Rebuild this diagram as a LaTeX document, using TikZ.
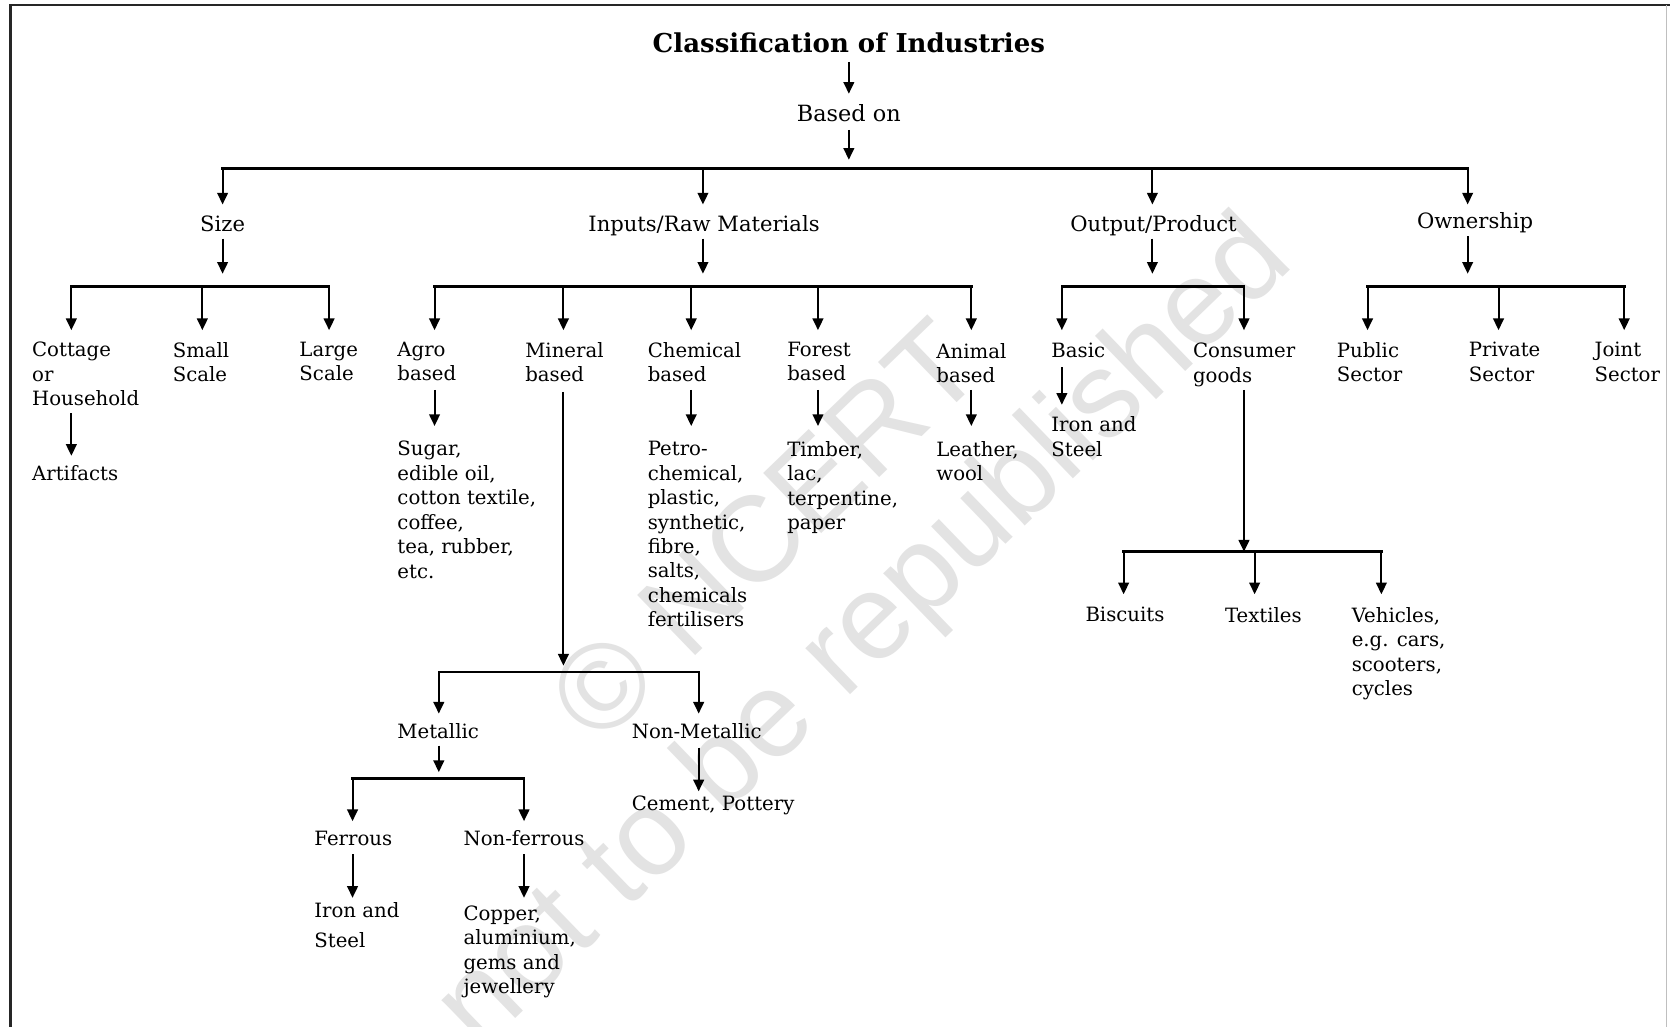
\documentclass[tikz,border=0pt]{standalone}
\usepackage{fontspec}
\setmainfont{DejaVu Serif}
\newfontfamily\wmfont{Liberation Sans}
\usetikzlibrary{arrows.meta}
\begin{document}
\begin{tikzpicture}[x=1pt,y=-1pt,
  lbl/.style={anchor=north west, inner sep=0pt, align=left, font=\fontsize{18.5}{23}\selectfont},
  lblc/.style={anchor=north, inner sep=0pt, align=center, font=\fontsize{19.8}{24}\selectfont},
  arr/.style={line width=1.9pt, -{Triangle[length=11pt,width=10pt]}},
  bar/.style={line width=2.4pt, line cap=rect},
  frame/.style={line width=2.2pt, draw=black!85}]
\useasboundingbox (0,0) rectangle (1568,964);
\fill[white] (0,0) rectangle (1568,964);
% watermark
\node[rotate=44, text=black!11, inner sep=0pt, align=center,
      font=\wmfont\fontsize{114}{128}\selectfont] (wm) at (770,552) {© NCERT\\not to be republished};
% frame
\coordinate (fTL) at (10,5);
\coordinate (fTR) at (1568,5);
\coordinate (fBL) at (10,964);
\coordinate (fRT) at (1565,5);
\coordinate (fRB) at (1565,964);
\draw[frame] (fBL) -- (fTL) -- (fTR);
\draw[line width=1pt, draw=black!25] (fRT) -- (fRB);

% title
\node[inner sep=0pt, font=\fontsize{24.4}{29}\selectfont\bfseries] (title) at (797,40) {Classification of Industries};
\node[lblc, font=\fontsize{21}{25}\selectfont] (based) at (797,98) {Based on};
\coordinate (based-in) at (797,88);
\coordinate (bar0) at (797,150);
\draw[arr] (title.south |- 0,58) -- (based-in);
\draw[arr] (based.south |- 0,122) -- (bar0);

% level 1
\coordinate (b0L) at (209,158);
\coordinate (b0R) at (1378,158);
\draw[bar] (b0L) -- (b0R);
\node[lblc] (size) at (209,202) {Size};
\node[lblc] (inputs) at (661,202) {Inputs/Raw Materials};
\node[lblc] (output) at (1083,202) {Output/Product};
\node[lblc] (owner) at (1385,199) {Ownership};
\coordinate (tSize) at (209,192);
\coordinate (tInputs) at (660,192);
\coordinate (tOutput) at (1082,192);
\coordinate (tOwner) at (1378,192);
\foreach \t in {tSize,tInputs,tOutput,tOwner}{\draw[arr] (\t |- b0L) -- (\t);}

% level-2 bars
\coordinate (bSL) at (67,269);  \coordinate (bSR) at (309,269);
\coordinate (bIL) at (408,269); \coordinate (bIR) at (912,269);
\coordinate (bOL) at (997,269); \coordinate (bOR) at (1168,269);
\coordinate (bWL) at (1284,269);\coordinate (bWR) at (1525,269);
\draw[arr] (tSize |- 0,224) -- (tSize |- 0,257);
\draw[arr] (tInputs |- 0,224) -- (tInputs |- 0,257);
\draw[arr] (tOutput |- 0,224) -- (tOutput |- 0,257);
\draw[arr] (tOwner |- 0,222) -- (tOwner |- 0,257);
\draw[bar] (bSL) -- (bSR);
\draw[bar] (bIL) -- (bIR);
\draw[bar] (bOL) -- (bOR);
\draw[bar] (bWL) -- (bWR);

% level-2 labels
\node[lbl] (cottage) at (30,321) {Cottage\\or\\Household};
\node[lbl] (small) at (162,321) {Small\\Scale};
\node[lbl] (large) at (281,321) {Large\\Scale};
\node[lbl] (agro) at (373,321) {Agro\\based};
\node[lbl] (mineral) at (493,321) {Mineral\\based};
\node[lbl] (chem) at (608,321) {Chemical\\based};
\node[lbl] (forest) at (739,321) {Forest\\based};
\node[lbl] (animal) at (879,322) {Animal\\based};
\node[lbl] (basic) at (987,322) {Basic};
\node[lbl] (consumer) at (1120,322) {Consumer\\goods};
\node[lbl] (public) at (1255,321) {Public\\Sector};
\node[lbl] (private) at (1379,321) {Private\\Sector};
\node[lbl] (joint) at (1497,321) {Joint\\Sector};

\foreach \x/\n in {67/cottageT,190/smallT,309/largeT,408/agroT,529/mineralT,649/chemT,768/forestT,912/animalT,997/basicT,1168/consumerT,1284/publicT,1407/privateT,1525/jointT}{
  \coordinate (\n) at (\x,310);
  \draw[arr] (\n |- bSL) -- (\n);
}

% level-3
\node[lbl] (artifacts) at (30,437) {Artifacts};
\node[lbl] (agroEx) at (373,414) {Sugar,\\edible oil,\\cotton textile,\\coffee,\\tea, rubber,\\etc.};
\node[lbl] (chemEx) at (608,414) {Petro-\\chemical,\\plastic,\\synthetic,\\fibre,\\salts,\\chemicals\\fertilisers};
\node[lbl] (forestEx) at (739,414) {Timber,\\lac,\\terpentine,\\paper};
\node[lbl] (animalEx) at (879,414) {Leather,\\wool};
\node[lbl] (basicEx) at (987,391) {Iron and\\Steel};

\coordinate (cottageA) at (67,428);
\coordinate (agroA) at (408,400);
\coordinate (chemA) at (649,400);
\coordinate (forestA) at (768,400);
\coordinate (animalA) at (912,400);
\coordinate (basicA) at (997,380);
\draw[arr] (cottageA |- 0,388) -- (cottageA);
\draw[arr] (agroA |- 0,366) -- (agroA);
\draw[arr] (chemA |- 0,366) -- (chemA);
\draw[arr] (forestA |- 0,366) -- (forestA);
\draw[arr] (animalA |- 0,366) -- (animalA);
\draw[arr] (basicA |- 0,345) -- (basicA);

% mineral sub-tree
\coordinate (mineralA) at (529,625);
\draw[arr] (mineralA |- 0,368) -- (mineralA);
\coordinate (bML) at (412,631); \coordinate (bMR) at (656,631);
\draw[bar] (bML) -- (bMR);
\coordinate (metalT) at (412,670);
\coordinate (nonmetalT) at (656,670);
\draw[arr] (metalT |- bML) -- (metalT);
\draw[arr] (nonmetalT |- bML) -- (nonmetalT);
\node[lbl] (metallic) at (373,679) {Metallic};
\node[lbl] (nonmetallic) at (593,679) {Non-Metallic};
\coordinate (nonmetalA) at (656,743);
\draw[arr] (nonmetalA |- 0,702) -- (nonmetalA);
\node[lbl] (cement) at (593,747) {Cement, Pottery};
\coordinate (metalA) at (412,725);
\draw[arr] (metalA |- 0,700) -- (metalA);
\coordinate (bFL) at (331,731); \coordinate (bFR) at (492,731);
\draw[bar] (bFL) -- (bFR);
\coordinate (ferT) at (331,771);
\coordinate (nferT) at (492,771);
\draw[arr] (ferT |- bFL) -- (ferT);
\draw[arr] (nferT |- bFL) -- (nferT);
\node[lbl] (ferrous) at (295,780) {Ferrous};
\node[lbl] (nonferrous) at (435,780) {Non-ferrous};
\coordinate (ferA) at (331,843);
\coordinate (nferA) at (492,843);
\draw[arr] (ferA |- 0,802) -- (ferA);
\draw[arr] (nferA |- 0,802) -- (nferA);
\node[lbl] (ironsteel) at (295,847) {Iron and\\[5pt]Steel};
\node[lbl] (copper) at (435,850) {Copper,\\aluminium,\\gems and\\jewellery};

% consumer sub-tree
\coordinate (consA) at (1168,518);
\draw[arr] (consA |- 0,366) -- (consA);
\coordinate (bCL) at (1055,518); \coordinate (bCR) at (1297,518);
\draw[bar] (bCL) -- (bCR);
\foreach \x/\n in {1055/biscT,1178/textT,1297/vehT}{
  \coordinate (\n) at (\x,558);
  \draw[arr] (\n |- bCL) -- (\n);
}
\node[lbl] (biscuits) at (1019,570) {Biscuits};
\node[lbl] (textiles) at (1150,570) {Textiles};
\node[lbl] (vehicles) at (1269,570) {Vehicles,\\e.g. cars,\\scooters,\\cycles};
\end{tikzpicture}
\end{document}
